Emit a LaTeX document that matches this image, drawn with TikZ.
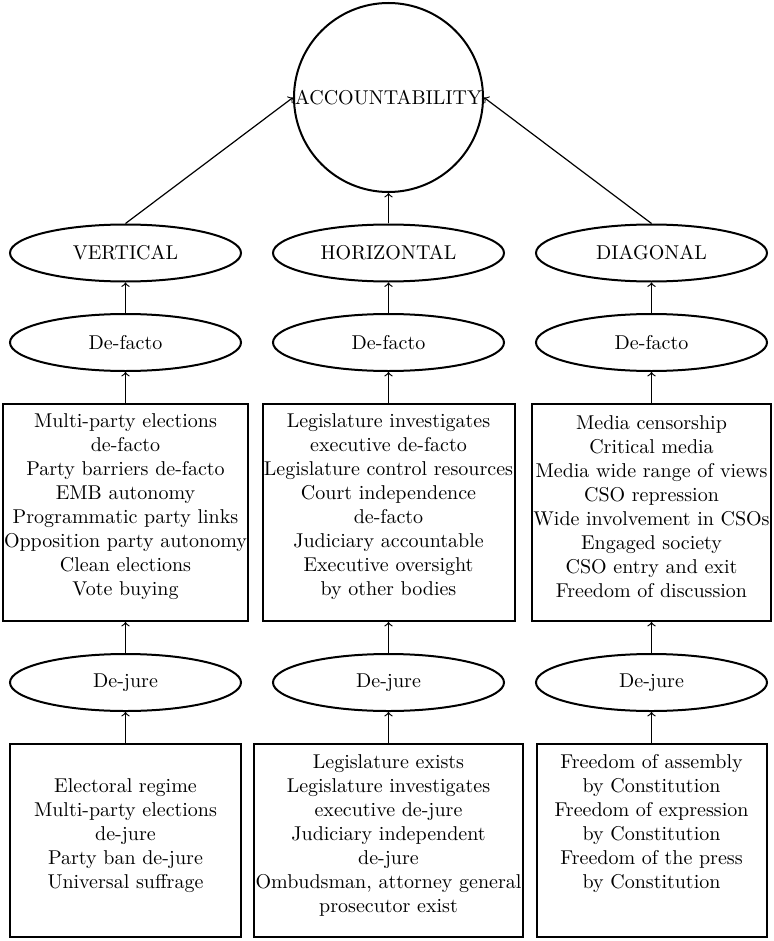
\documentclass[tikz,border=0pt]{standalone}
\usetikzlibrary{shapes.geometric}
\begin{document}
\begin{tikzpicture}[x=0.5pt,y=-0.5pt,
  oval/.style={ellipse,draw,line width=1pt,minimum width=115.5pt,minimum height=28.5pt,inner sep=0pt},
  boxnode/.style={rectangle,draw,line width=1pt,inner sep=0pt},
  txt/.style={align=center,inner sep=0pt},
  conn/.style={->,line width=0.6pt}]
\useasboundingbox (0,0) rectangle (774,941);
\node[circle,draw,line width=1pt,minimum size=94.5pt,inner sep=0pt] (acc) at (388.5,97.5) {\makebox[0pt]{ACCOUNTABILITY}};

\node[oval] (vert) at (125.5,253) {VERTICAL};
\node[oval] (hori) at (388.5,253) {HORIZONTAL};
\node[oval] (diag) at (651.5,253) {DIAGONAL};

\node[oval] (vf) at (125.5,342.5) {De-facto};
\node[oval] (hf) at (388.5,342.5) {De-facto};
\node[oval] (df) at (651.5,342.5) {De-facto};

\node[boxnode,minimum width=122.5pt,minimum height=108.5pt] (vfb) at (125.5,512.5) {};
\node[boxnode,minimum width=126pt,minimum height=108.5pt] (hfb) at (388.5,512.5) {};
\node[boxnode,minimum width=119.5pt,minimum height=108.5pt] (dfb) at (651.5,512.5) {};

\node[txt] (vft) at (125.5,507) {Multi-party elections\\de-facto\\Party barriers de-facto\\EMB autonomy\\Programmatic party links\\Opposition party autonomy\\Clean elections\\Vote buying};
\node[txt] (hft) at (388.5,507) {Legislature investigates\\executive de-facto\\Legislature control resources\\Court independence\\de-facto\\Judiciary accountable\\Executive oversight\\by other bodies};
\node[txt] (dft) at (651.5,507) {Media censorship\\Critical media\\Media wide range of views\\CSO repression\\Wide involvement in CSOs\\Engaged society\\CSO entry and exit\\Freedom of discussion};

\node[oval] (vj) at (125.5,682.5) {De-jure};
\node[oval] (hj) at (388.5,682.5) {De-jure};
\node[oval] (dj) at (651.5,682.5) {De-jure};

\node[boxnode,minimum width=115.5pt,minimum height=96.5pt] (vjb) at (125.5,840.5) {};
\node[boxnode,minimum width=134.5pt,minimum height=96.5pt] (hjb) at (388.5,840.5) {};
\node[boxnode,minimum width=115pt,minimum height=96.5pt] (djb) at (651.5,840.5) {};

\node[txt] (vjt) at (125.5,836) {Electoral regime\\Multi-party elections\\de-jure\\Party ban de-jure\\Universal suffrage};
\node[txt] (hjt) at (388.5,835.5) {Legislature exists\\Legislature investigates\\executive de-jure\\Judiciary independent\\de-jure\\Ombudsman, attorney general\\prosecutor exist};
\node[txt] (djt) at (651.5,823.5) {Freedom of assembly\\by Constitution\\Freedom of expression\\by Constitution\\Freedom of the press\\by Constitution};

\draw[conn] (vert.north) -- (acc.west);
\draw[conn] (hori.north) -- (acc.south);
\draw[conn] (diag.north) -- (acc.east);

\draw[conn] (vf.north) -- (vert.south);
\draw[conn] (hf.north) -- (hori.south);
\draw[conn] (df.north) -- (diag.south);

\draw[conn] (vfb.north) -- (vf.south);
\draw[conn] (hfb.north) -- (hf.south);
\draw[conn] (dfb.north) -- (df.south);

\draw[conn] (vj.north) -- (vfb.south);
\draw[conn] (hj.north) -- (hfb.south);
\draw[conn] (dj.north) -- (dfb.south);

\draw[conn] (vjb.north) -- (vj.south);
\draw[conn] (hjb.north) -- (hj.south);
\draw[conn] (djb.north) -- (dj.south);
\end{tikzpicture}
\end{document}
